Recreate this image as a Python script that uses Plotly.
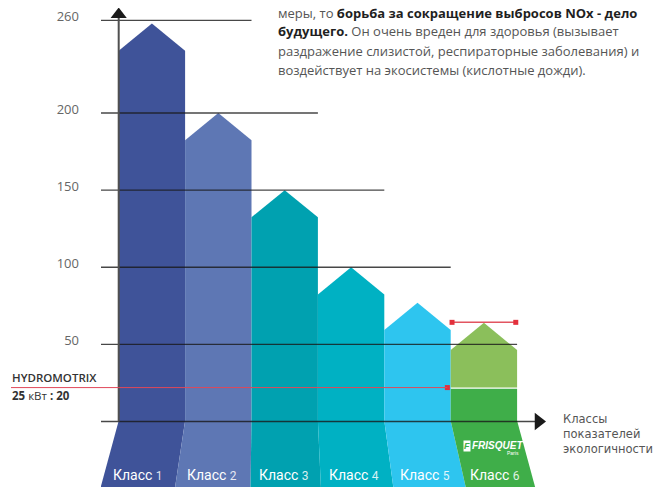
import plotly.graph_objects as go

# ---------------- data ----------------
CLASS_LABELS = ["Класс 1", "Класс 2", "Класс 3", "Класс 4", "Класс 5", "Класс 6"]
PEAK_VALUES = [258, 200, 150, 100, 77, 64]
Y_TICKS = [50, 100, 150, 200, 260]
HYDRO_NAME = "HYDROMOTRIX"
HYDRO_VALUE = 22
HYDRO_TEXT = "<b>25</b> кВт <b>: 20</b>"
X_TITLE_LINES = ["Классы", "показателей", "экологичности"]
NOTE_LINES = [
    "меры, то <span style='color:#1f1f1f'><b>борьба за сокращение выбросов NOx - дело</b></span>",
    "<span style='color:#1f1f1f'><b>будущего.</b></span> Он очень вреден для здоровья (вызывает",
    "раздражение слизистой, респираторные заболевания) и",
    "воздействует на экосистемы (кислотные дожди).",
]

# ---------------- style / layout constants (screen pixels) ----------------
SCREEN_W, SCREEN_H = 663, 487
OFF = 8                      # page body margin
W, H = SCREEN_W - OFF, SCREEN_H - OFF
PLOT_LEFT = 101              # screen x of plot-area left edge
X0_S, PX_PER_X = 151.9, 66.4
Y0_S, PX_PER_Y = 421.53, 1.5426
ROOF = 17.6
BAR_COLORS = ["#3f5399", "#5e77b4", "#00a1b0", "#00b1c3", "#2ec5ef", "#3fae49"]
TOP_GREEN = "#8bbf5b"
GRID_EXTENT = [5.5, 4.5, 3.5, 2.5, 1.5]      # right end of each grid line (class boundary)
BAND_SHIFT_PX = [-18, -10, -1, 3, 9, 15, 18]  # fan-out of the label bands at the bottom
RED = "#e3303c"
LINE_DARK = "rgba(25,25,25,0.8)"
FONT = "Open Sans"


def xd(sx):
    return (sx - X0_S) / PX_PER_X


def yd(sy):
    return (Y0_S - sy) / PX_PER_Y


def paper_x(sx):
    return (sx - PLOT_LEFT) / (SCREEN_W - PLOT_LEFT)


def paper_y(sy):
    return (SCREEN_H - sy) / (SCREEN_H - OFF)


x_range = [xd(PLOT_LEFT), xd(SCREEN_W)]
y_range = [yd(SCREEN_H), yd(OFF)]

fig = go.Figure()


def poly(xs, ys, color):
    fig.add_trace(go.Scatter(x=xs, y=ys, mode="lines", fill="toself", fillcolor=color,
                             line=dict(width=0, color=color), hoverinfo="skip", showlegend=False))


# label bands below the baseline
bottom = y_range[0]
for i in range(len(CLASS_LABELS)):
    lt, rt = i - 0.5, i + 0.5
    lb = lt + BAND_SHIFT_PX[i] / PX_PER_X
    rb = rt + BAND_SHIFT_PX[i + 1] / PX_PER_X
    poly([lt, rt, rb, lb, lt], [0.5, 0.5, bottom, bottom, 0.5], BAR_COLORS[i])

# house-shaped bars
for i, peak in enumerate(PEAK_VALUES):
    last = i == len(PEAK_VALUES) - 1
    base = HYDRO_VALUE if last else 0
    color = TOP_GREEN if last else BAR_COLORS[i]
    poly([i - 0.5, i - 0.5, i, i + 0.5, i + 0.5, i - 0.5],
         [base, peak - ROOF, peak, peak - ROOF, base, base], color)
    if last:
        poly([i - 0.5, i - 0.5, i + 0.5, i + 0.5, i - 0.5],
             [0, HYDRO_VALUE - 0.8, HYDRO_VALUE - 0.8, 0, 0], BAR_COLORS[i])

# grid lines of varying length
for v, end in zip(Y_TICKS, GRID_EXTENT):
    fig.add_trace(go.Scatter(x=[x_range[0], end], y=[v, v], mode="lines",
                             line=dict(color=LINE_DARK, width=1.3),
                             hoverinfo="skip", showlegend=False))

# x axis with arrow
x_arrow = xd(538.5)
fig.add_trace(go.Scatter(x=[x_range[0], x_arrow - 0.05], y=[0, 0], mode="lines",
                         line=dict(color=LINE_DARK, width=1.5), hoverinfo="skip", showlegend=False))
fig.add_trace(go.Scatter(x=[x_arrow], y=[0], mode="markers",
                         marker=dict(symbol="triangle-right", size=15, color="#1a1a1a"),
                         hoverinfo="skip", showlegend=False, cliponaxis=False))

# y axis with arrow
y_arrow = yd(14.5)
fig.add_trace(go.Scatter(x=[-0.5, -0.5], y=[0, y_arrow - 1], mode="lines",
                         line=dict(color="#505050", width=2), hoverinfo="skip", showlegend=False))
fig.add_trace(go.Scatter(x=[-0.5], y=[y_arrow], mode="markers",
                         marker=dict(symbol="triangle-up", size=14, color="#1a1a1a"),
                         hoverinfo="skip", showlegend=False, cliponaxis=False))

# HYDROMOTRIX reference line
hx_end = 4.5 - 0.05
fig.add_shape(type="line", xref="paper", yref="y",
              x0=paper_x(11), x1=(hx_end - x_range[0]) / (x_range[1] - x_range[0]),
              y0=HYDRO_VALUE, y1=HYDRO_VALUE, line=dict(color="#e0485a", width=1))
fig.add_trace(go.Scatter(x=[hx_end], y=[HYDRO_VALUE], mode="markers",
                         marker=dict(symbol="square", size=5, color=RED),
                         hoverinfo="skip", showlegend=False))

# red bracket over class 6
c6 = len(PEAK_VALUES) - 1
fig.add_trace(go.Scatter(x=[c6 - 0.48, c6 + 0.48], y=[PEAK_VALUES[c6] + 0.3] * 2,
                         mode="lines+markers", line=dict(color="#e25560", width=1.5),
                         marker=dict(symbol="square", size=5, color=RED),
                         hoverinfo="skip", showlegend=False))

annotations = []

# class labels in the bands
y_lab = yd(475)
frac = y_lab / bottom
for i, lab in enumerate(CLASS_LABELS):
    word, num = lab.split(" ")
    left = i - 0.5 + BAND_SHIFT_PX[i] / PX_PER_X * frac
    right = i + 0.5 + BAND_SHIFT_PX[i + 1] / PX_PER_X * frac
    annotations.append(dict(
        x=(left + right) / 2 - 0.03, y=y_lab, xref="x", yref="y", showarrow=False,
        text=f"{word} <span style='font-size:12px;color:rgba(255,255,255,0.85)'>{num}</span>",
        font=dict(family="Roboto", size=14, color="white")))

# FRISQUET logo (text)
annotations.append(dict(x=xd(467), y=yd(445.5), xref="x", yref="y", showarrow=False,
                        text="<b><i>F</i></b>", bgcolor="white", borderpad=0,
                        font=dict(family="Liberation Sans", size=9, color=BAR_COLORS[5])))
annotations.append(dict(x=xd(497), y=yd(445.5), xref="x", yref="y", showarrow=False,
                        text="<b><i>FRISQUET</i></b>",
                        font=dict(family="Liberation Sans", size=10, color="white")))
annotations.append(dict(x=xd(513), y=yd(452.5), xref="x", yref="y", showarrow=False,
                        text="Paris", font=dict(family="Liberation Sans", size=5, color="white")))

# HYDROMOTRIX labels
annotations.append(dict(x=paper_x(10), y=paper_y(377.7), xref="paper", yref="paper",
                        xanchor="left", yanchor="middle", showarrow=False,
                        text=HYDRO_NAME,
                        font=dict(family=FONT, size=11.5, color="#333", weight=600)))
annotations.append(dict(x=paper_x(10), y=paper_y(395), xref="paper", yref="paper",
                        xanchor="left", yanchor="middle", showarrow=False,
                        text=HYDRO_TEXT, font=dict(family=FONT, size=11.5, color="#333")))

# x axis title
annotations.append(dict(x=paper_x(561), y=paper_y(433.5), xref="paper", yref="paper",
                        xanchor="left", yanchor="middle", align="left", showarrow=False,
                        text="<br>".join(X_TITLE_LINES),
                        font=dict(family="DejaVu Sans", size=11.5, color="#555")))

# note text at top right
for sy, line in zip([12.8, 31.3, 51.0, 70.4], NOTE_LINES):
    annotations.append(dict(x=paper_x(276), y=paper_y(sy), xref="paper", yref="paper",
                            xanchor="left", yanchor="middle", showarrow=False,
                            text=line, font=dict(family=FONT, size=13, color="#555")))

fig.update_layout(
    width=W, height=H,
    margin=dict(l=PLOT_LEFT - OFF, r=0, t=0, b=0, pad=0),
    paper_bgcolor="white", plot_bgcolor="white",
    showlegend=False,
    xaxis=dict(range=x_range, visible=False, fixedrange=True, automargin=False),
    yaxis=dict(range=y_range, tickvals=Y_TICKS, showgrid=False, zeroline=False,
               showline=False, ticks="", ticklabelstandoff=21, ticklabelshift=-4,
               ticklabeloverflow="allow",
               tickfont=dict(family=FONT, size=13, color="#666"),
               automargin=False, fixedrange=True),
    annotations=annotations,
)

fig.write_html("out.html")
